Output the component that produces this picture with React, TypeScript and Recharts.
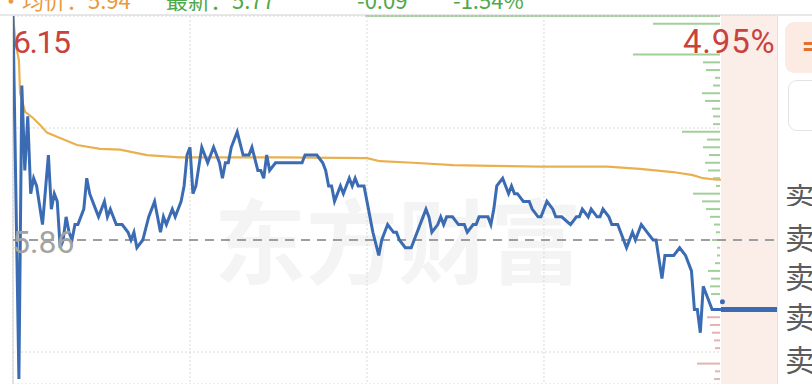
import {
  ComposedChart, BarChart, Bar, Cell, Line, XAxis, YAxis, CartesianGrid,
  ReferenceLine, ReferenceArea, ReferenceDot,
} from 'recharts'

const W = 812
const H = 384
const PREV_CLOSE = 5.86
const LAST = 5.77
const Y_DOMAIN: [number, number] = [5.6736, 6.15]
const X_END = 259 // end of the post-market strip
const TIME_TICKS = [60, 120, 180]
const PRICE_GRID = [6.005, 5.715]

// minute price (blue)
const minutes = [
  0, 2, 3, 4, 5, 6, 7, 8, 10, 12, 13, 14, 15, 16, 17, 18, 19, 20, 21, 22, 24, 25, 26, 28, 29, 30,
  31, 32, 33, 35, 37, 39, 40, 41, 42, 44, 46, 48, 50, 51, 52, 54, 55, 57, 58, 59, 60, 61, 62, 64,
  66, 68, 70, 71, 72, 73, 74, 76, 78, 79, 80, 81, 83, 84, 85, 86, 87, 89, 98, 99, 103, 105, 106,
  107, 108, 109, 111, 112, 114, 115, 116, 117, 119, 120, 122, 124, 125, 127, 129, 130, 131, 133,
  135, 136, 139, 140, 141, 142, 144, 145, 146, 147, 149, 151, 153, 154, 156, 157, 158, 161, 162,
  163, 164, 166, 167, 168, 169, 170, 171, 173, 175, 176, 178, 179, 181, 183, 184, 186, 189, 191,
  192, 193, 195, 196, 198, 199, 200, 202, 203, 204, 205, 208, 210, 211, 213, 215, 217, 218, 220,
  221, 224, 226, 228, 230, 231, 232, 233, 234, 235, 237, 239, 240,
]
const prices = [
  6.15, 5.68, 6.06, 5.95, 6.02, 5.92, 5.94, 5.93, 5.88, 5.97, 5.90, 5.92, 5.91, 5.85, 5.86, 5.89, 5.87, 5.86, 5.88, 5.88, 5.90, 5.94, 5.92, 5.90, 5.89, 5.90,
  5.91, 5.89, 5.90, 5.88, 5.88, 5.87, 5.86, 5.87, 5.85, 5.86, 5.89, 5.91, 5.87, 5.89, 5.88, 5.90, 5.89, 5.91, 5.93, 5.97, 5.98, 5.92, 5.93, 5.98,
  5.96, 5.98, 5.96, 5.94, 5.96, 5.96, 5.98, 6.00, 5.97, 5.97, 5.97, 5.98, 5.95, 5.95, 5.94, 5.97, 5.95, 5.96, 5.96, 5.97, 5.97, 5.96, 5.95,
  5.93, 5.93, 5.91, 5.93, 5.92, 5.94, 5.93, 5.94, 5.93, 5.93, 5.91, 5.87, 5.84, 5.86, 5.88, 5.87, 5.87, 5.86, 5.85,
  5.85, 5.86, 5.89, 5.90, 5.89, 5.87, 5.88, 5.89, 5.88, 5.89, 5.89, 5.88, 5.88, 5.87, 5.88, 5.88, 5.89, 5.89, 5.88,
  5.90, 5.93, 5.94, 5.93, 5.92, 5.93, 5.92, 5.92, 5.91, 5.91, 5.90, 5.89, 5.89, 5.91, 5.90, 5.89, 5.89, 5.88, 5.89,
  5.89, 5.90, 5.89, 5.90, 5.89, 5.89, 5.90, 5.89, 5.88, 5.88, 5.88, 5.85, 5.87, 5.86, 5.88, 5.87, 5.86, 5.86, 5.81,
  5.84, 5.84, 5.85, 5.84, 5.82, 5.77, 5.77, 5.74, 5.80, 5.79, 5.77, 5.77, 5.77,
]

// average price (orange)
const avgMinutes = [0, 1, 2, 2.4, 4.1, 6.8, 9.2, 11.5, 15.3, 21.7, 29.5, 36.3, 45.4, 56.6, 90.5, 120, 124.4, 135.6, 149.2, 162.7, 178.6, 201.4, 212.5, 223.7, 230.5, 233.9, 238.6, 240]
const avgPrices = [6.15, 6.112, 6.093, 6.05, 6.026, 6.018, 6.009, 5.999, 5.993, 5.983, 5.978, 5.977, 5.970, 5.967, 5.967, 5.966, 5.962, 5.960, 5.957, 5.956, 5.955, 5.955, 5.952, 5.948, 5.944, 5.940, 5.938, 5.938]

// post-market fixed price trade
const postMinutes = [240, 259]
const postPrices = [5.77, 5.77]
const POST_MARK = 5.78

// volume by price level, top to bottom
const levels = [
  '6.15', '6.14', '6.13', '6.12', '6.11', '6.10', '6.09', '6.08', '6.07', '6.06', '6.05', '6.04',
  '6.03', '6.02', '6.01', '6.00', '5.99', '5.98', '5.97', '5.96', '5.95', '5.94', '5.93', '5.92',
  '5.91', '5.90', '5.89', '5.88', '5.87', '5.86', '5.85', '5.84', '5.83', '5.82', '5.81', '5.80',
  '5.79', '5.78', '5.77', '5.76', '5.75', '5.74', '5.73', '5.72', '5.71', '5.70', '5.69', '5.68',
]
const levelVolumes = [
  355, 67, 0, 0, 0, 87, 17, 14, 5, 7, 18, 15,
  8, 7, 7, 38, 13, 17, 11, 15, 12, 7, 4, 27,
  18, 14, 10, 6, 4, 8, 3, 3, 5, 12, 9, 10,
  9, 0, 0, 13, 10, 8, 6, 5, 0, 23, 5, 6,
]

const priceRows = minutes.map((t, i) => ({ t, p: prices[i] }))
const avgRows = avgMinutes.map((t, i) => ({ t, p: avgPrices[i] }))
const postRows = postMinutes.map((t, i) => ({ t, p: postPrices[i] }))
const levelRows = levels.map((lv, i) => ({ lv, v: levelVolumes[i] }))

// one category band per 0.01 step, same px-per-price as the main plot
const PX_PER_PRICE = (H - 16) / (Y_DOMAIN[1] - Y_DOMAIN[0])
const BAND = PX_PER_PRICE * 0.01
const LEVEL_H = BAND * levels.length
const LEVEL_TOP = 16 - BAND / 2

const BLUE = '#3b6cb3'
const ORANGE = '#e9b050'
const RED = '#c7433b'
const NUM_FONT = 'Roboto, "Noto Sans", sans-serif'
const CJK_FONT = '"Noto Sans CJK SC", "Noto Sans", sans-serif'

const abs = (s: React.CSSProperties): React.CSSProperties => ({ position: 'absolute', ...s })

export default function App() {
  return (
    <div style={abs({ left: 0, top: 0, width: W, height: H, overflow: 'hidden', background: '#fff' })}>
      {/* cut-off header text */}
      <div style={abs({ left: 0, top: -12, fontFamily: CJK_FONT, fontSize: 22, lineHeight: '22px', whiteSpace: 'nowrap' })}>
        <span style={abs({ left: 0, color: '#e79a3e' })}>·均价：5.94</span>
        <span style={abs({ left: 166, color: '#4fa84a' })}>最新：5.77</span>
        <span style={abs({ left: 357, color: '#4fa84a' })}>-0.09</span>
        <span style={abs({ left: 453, color: '#4fa84a' })}>-1.54%</span>
      </div>

      {/* frame lines */}
      <div style={abs({ left: 0, top: 14, width: W, height: 2, background: '#e8e8e8' })} />
      <div style={abs({ left: 12, top: 16, width: 2, height: H, background: '#e6e6e6' })} />
      <div style={abs({ left: 777, top: 16, width: 1, height: H, background: '#e6e6e6' })} />

      {/* watermark */}
      <div style={abs({ left: 214, top: 182, fontFamily: CJK_FONT, fontWeight: 700, fontSize: 92, lineHeight: '110px', color: '#f4f4f4', whiteSpace: 'nowrap' })}>
        东方财富
      </div>

      {/* volume per price level */}
      <div style={abs({ left: 0, top: LEVEL_TOP })}>
        <BarChart width={W} height={LEVEL_H} data={levelRows} layout="vertical" margin={{ top: 0, right: 92, bottom: 0, left: 13 }}>
          <XAxis type="number" domain={[0, 707]} reversed hide />
          <YAxis type="category" dataKey="lv" hide />
          <Bar dataKey="v" barSize={2} isAnimationActive={false}>
            {levelRows.map((r, i) => (
              <Cell key={i} fill={Number(r.lv) > LAST ? '#a1cf99' : '#e3b4b1'} />
            ))}
          </Bar>
        </BarChart>
      </div>

      {/* price chart */}
      <div style={abs({ left: 0, top: 0 })}>
        <ComposedChart width={W} height={H} margin={{ top: 16, right: W - 777, bottom: 0, left: 13 }}>
          <XAxis type="number" dataKey="t" domain={[0, X_END]} ticks={TIME_TICKS} hide allowDataOverflow />
          <YAxis type="number" dataKey="p" domain={Y_DOMAIN} ticks={PRICE_GRID} hide allowDataOverflow />
          <ReferenceArea x1={240} x2={X_END} y1={Y_DOMAIN[0]} y2={Y_DOMAIN[1]} fill="#fbede8" fillOpacity={1} stroke="none" />
          <CartesianGrid strokeDasharray="2 2" stroke="#d9d9d9" />
          <ReferenceLine y={PREV_CLOSE} stroke="#9d9d9d" strokeWidth={2} strokeDasharray="9 7" />
          <Line data={avgRows} dataKey="p" stroke={ORANGE} strokeWidth={2.2} dot={false} isAnimationActive={false} />
          <Line data={priceRows} dataKey="p" stroke={BLUE} strokeWidth={3} dot={false} isAnimationActive={false} />
          <Line data={postRows} dataKey="p" stroke={BLUE} strokeWidth={5} dot={false} isAnimationActive={false} />
          <ReferenceDot x={240.5} y={POST_MARK} r={2.5} fill={BLUE} stroke="none" />
        </ComposedChart>
      </div>

      {/* value labels */}
      <div style={abs({ left: 13, top: 26, fontFamily: NUM_FONT, fontSize: 32, lineHeight: '32px', letterSpacing: -1.5, color: RED })}>6.15</div>
      <div style={abs({ left: 683, top: 26, fontFamily: NUM_FONT, fontSize: 33, lineHeight: '32px', letterSpacing: 0.8, color: RED })}>4.95%</div>
      <div style={abs({ left: 12, top: 226, fontFamily: NUM_FONT, fontSize: 32, lineHeight: '32px', color: '#a3a3a3' })}>5.86</div>

      {/* right side panel */}
      <div style={abs({ left: 785, top: 22, width: 50, height: 51, borderRadius: 9, background: '#fcebe2' })} />
      <div style={abs({ left: 802, top: 30, fontFamily: NUM_FONT, fontWeight: 700, fontSize: 28, lineHeight: '32px', color: '#e2702e' })}>=</div>
      <div style={abs({ left: 788, top: 80, width: 50, height: 51, borderRadius: 9, border: '1px solid #e3e3e3', boxSizing: 'border-box' })} />
      <div style={abs({ left: 785, top: 184, width: 30, height: 22, overflow: 'hidden' })}>
        <div style={abs({ left: 0, top: -10, fontFamily: CJK_FONT, fontSize: 30, lineHeight: '34px', color: '#5c5c5c' })}>卖</div>
      </div>
      {[219, 258, 298, 341].map((top, i) => (
        <div key={i} style={abs({ left: 785, top, fontFamily: CJK_FONT, fontSize: 30, lineHeight: '34px', color: '#5c5c5c' })}>卖</div>
      ))}
    </div>
  )
}
